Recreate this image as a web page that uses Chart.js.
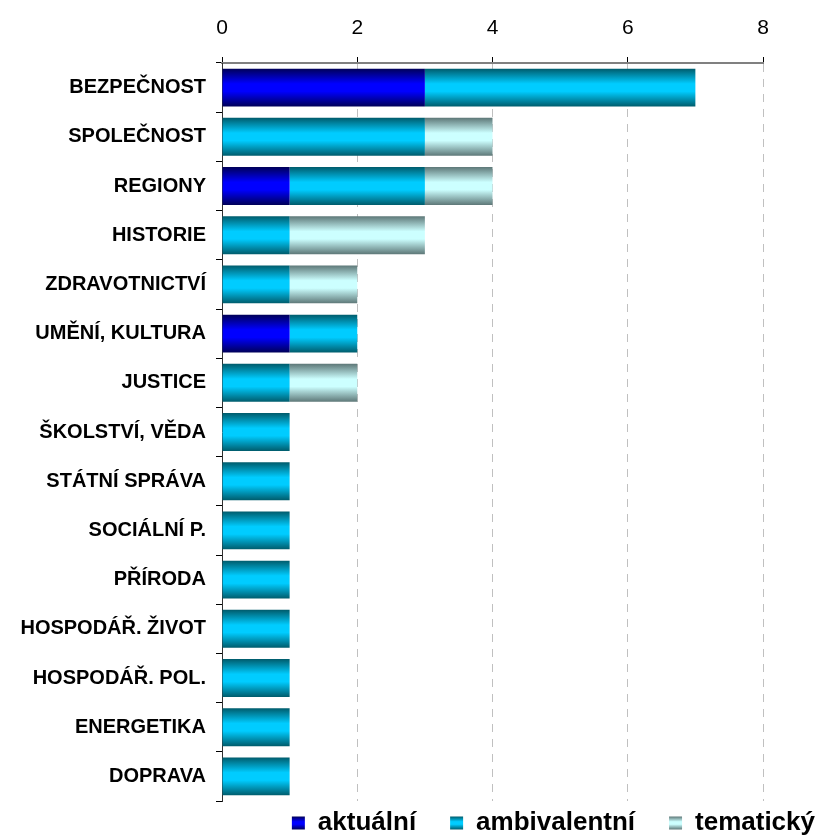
<!DOCTYPE html>
<html>
<head>
<meta charset="utf-8">
<script src="https://cdn.jsdelivr.net/npm/chart.js@4"></script>
<style>
  html, body { margin: 0; padding: 0; background: #fff; }
  #wrap { width: 816px; height: 836px; }
</style>
</head>
<body>
<div id="wrap"><canvas id="myChart" width="816" height="836"></canvas></div>
<script>
const categories = ['BEZPEČNOST', 'SPOLEČNOST', 'REGIONY', 'HISTORIE', 'ZDRAVOTNICTVÍ', 'UMĚNÍ, KULTURA', 'JUSTICE',
    'ŠKOLSTVÍ, VĚDA', 'STÁTNÍ SPRÁVA', 'SOCIÁLNÍ P.', 'PŘÍRODA', 'HOSPODÁŘ. ŽIVOT', 'HOSPODÁŘ. POL.', 'ENERGETIKA', 'DOPRAVA'];
const aktualni     = [3, 0, 1, 0, 0, 1, 0, 0, 0, 0, 0, 0, 0, 0, 0];
const ambivalentni = [4, 3, 2, 1, 1, 1, 1, 1, 1, 1, 1, 1, 1, 1, 1];
const tematicky    = [0, 1, 1, 2, 1, 0, 1, 0, 0, 0, 0, 0, 0, 0, 0];
const xTicks = [0, 2, 4, 6, 8];

const barPct = 0.77;
const legendPad = 34;
const legendFont = 26;

// edge / centre colours for the striped look
const palette = {
    aktualni: ['#000058', '#0000ff'],
    ambivalentni: ['#005c6c', '#00ccff'],
    tematicky: ['#5e7878', '#ccffff']
};

function makeGrad(ctx, top, bottom, cols) {
    const g = ctx.createLinearGradient(0, top, 0, bottom);
    g.addColorStop(0, cols[0]);
    g.addColorStop(0.4, cols[1]);
    g.addColorStop(0.6, cols[1]);
    g.addColorStop(1, cols[0]);
    return g;
}

function barFill(cols) {
    return function (c) {
        if (c.type !== 'data') return cols[1];
        const y = c.chart.scales.y;
        if (!y || y.height == null) return cols[1];
        const mid = y.getPixelForValue(c.dataIndex);
        const h = y.height / categories.length * barPct;
        return makeGrad(c.chart.ctx, mid - h / 2, mid + h / 2, cols);
    };
}

const legendFix = {
    id: 'legendFix',
    beforeLayout(chart) {
        const lg = chart.legend;
        if (lg && !lg._patched) {
            const orig = lg.fit;
            lg.fit = function () { orig.call(this); this.height = 35; };
            lg._patched = true;
        }
    },
    afterLayout(chart) {
        const lg = chart.legend;
        // legend rows start at top + padding, pull them up into the 35px strip
        lg.top -= 25;
        lg.left += 86;
        lg.right += 86;
    },
    beforeDraw(chart) {
        const lg = chart.legend;
        const cols = [palette.aktualni, palette.ambivalentni, palette.tematicky];
        const cy = lg.top + legendPad + legendFont / 2;
        lg.legendItems.forEach((it, i) => {
            it.fillStyle = makeGrad(chart.ctx, cy - 6.5, cy + 6.5, cols[i]);
            it.lineWidth = 0;
        });
    }
};

const ctx = document.getElementById('myChart');

new Chart(ctx, {
    type: 'bar',
    data: {
        labels: categories,
        datasets: [
            { label: 'aktuální', data: aktualni, backgroundColor: barFill(palette.aktualni) },
            { label: 'ambivalentní', data: ambivalentni, backgroundColor: barFill(palette.ambivalentni) },
            { label: 'tematický', data: tematicky, backgroundColor: barFill(palette.tematicky) }
        ]
    },
    options: {
        indexAxis: 'y',
        responsive: false,
        animation: false,
        datasets: {
            bar: {
                barPercentage: barPct,
                categoryPercentage: 1,
                borderWidth: 0
            }
        },
        layout: { padding: { left: 0, right: 53, top: 0, bottom: 0 } },
        scales: {
            x: {
                position: 'top',
                stacked: true,
                min: 0,
                max: 8,
                afterFit: s => { s.height = 63; },
                afterBuildTicks: s => { s.ticks = xTicks.map(v => ({ value: v })); },
                ticks: {
                    color: '#000',
                    padding: 16,
                    font: { family: 'Liberation Sans, Arial', size: 21 }
                },
                grid: {
                    color: '#c0c0c0',
                    lineWidth: 1,
                    tickColor: '#000',
                    tickLength: 6
                },
                border: { display: true, color: '#808080', width: 2, dash: [8, 7] }
            },
            y: {
                stacked: true,
                afterFit: s => { s.width = 222; },
                ticks: {
                    color: '#000',
                    padding: 10,
                    font: { family: 'Liberation Sans, Arial', size: 20, weight: 'bold' }
                },
                grid: {
                    drawOnChartArea: false,
                    offset: true,
                    tickColor: '#000',
                    tickLength: 6
                },
                border: { display: true, color: '#303030', width: 1 }
            }
        },
        plugins: {
            legend: {
                position: 'bottom',
                align: 'end',
                labels: {
                    color: '#000',
                    boxWidth: 13,
                    boxHeight: 13,
                    padding: legendPad,
                    font: { family: 'Liberation Sans, Arial', size: legendFont, weight: 'bold' }
                }
            },
            tooltip: { enabled: false }
        }
    },
    plugins: [legendFix]
});
</script>
</body>
</html>
